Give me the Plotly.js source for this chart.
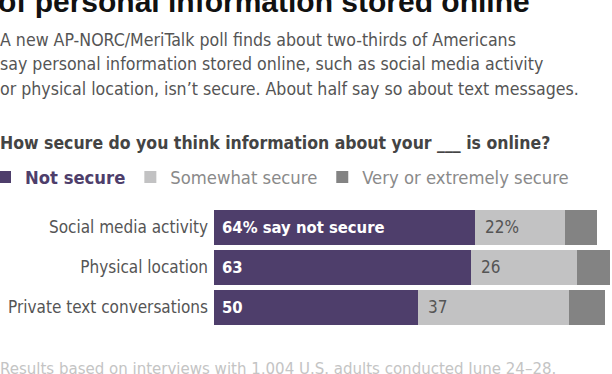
<!DOCTYPE html>
<html>
<head>
<meta charset="utf-8">
<script src="https://cdn.plot.ly/plotly-3.0.1.min.js"></script>
<style>html,body{margin:0;padding:0;background:#fff;}#chart{width:612px;height:374px;}</style>
</head>
<body>
<div id="chart"></div>
<script>
const categories = ['Social media activity', 'Physical location', 'Private text conversations'];
const notSecure = [64, 63, 50];
const somewhatSecure = [22, 26, 37];
const verySecure = [8, 8, 9];
const notSecureLabels = ['64% say not secure', '63', '50'];
const somewhatLabels = ['22%', '26', '37'];
const seriesNames = ['Not secure', 'Somewhat secure', 'Very or extremely secure'];

const titleText = 'of personal information stored online';
const subtitleLines = [
  'A new AP-NORC/MeriTalk poll finds about two-thirds of Americans',
  'say personal information stored online, such as social media activity',
  'or physical location, isn\u2019t secure. About half say so about text messages.'
];
const questionText = 'How secure do you think information about your ___ is online?';
const footerText = 'Results based on interviews with 1,004 U.S. adults conducted June 24\u201328.';

const NARROW = '"Liberation Sans Narrow", "Arial Narrow", "DejaVu Sans Condensed", sans-serif';
const BOLDF = '"Liberation Sans", Arial, sans-serif';
const PURPLE = '#4e3e6b';
const LIGHT = '#c2c2c3';
const DARK = '#838383';

const W = 612, H = 374;
const M = {l: 214, r: 0, t: 207, b: 47, autoexpand: false};
const PW = W - M.l - M.r, PH = H - M.t - M.b;
const px = x => (x - M.l) / PW;
const py = y => (H - M.b - y) / PH;

const traces = [
  {type: 'bar', orientation: 'h', y: categories, x: notSecure, marker: {color: PURPLE},
   name: '<span style="color:' + PURPLE + '"><b>' + seriesNames[0] + '</b></span>', hoverinfo: 'x+y'},
  {type: 'bar', orientation: 'h', y: categories, x: somewhatSecure, marker: {color: LIGHT},
   name: seriesNames[1], hoverinfo: 'x+y'},
  {type: 'bar', orientation: 'h', y: categories, x: verySecure, marker: {color: DARK},
   name: seriesNames[2], hoverinfo: 'x+y'}
];

const annotations = [];
function txt(text, x, y, opts) {
  annotations.push(Object.assign({text: text, x: px(x), y: py(y), xref: 'paper', yref: 'paper',
    showarrow: false, xanchor: 'left', yanchor: 'middle', borderpad: 0}, opts));
}
txt('<b>' + titleText + '</b>', -3, 1, {font: {family: BOLDF, size: 30, color: '#111'}});
const subY = [40, 64, 89];
subtitleLines.forEach((l, i) => txt(l, -1, subY[i], {font: {family: NARROW, size: 17.6, color: '#555'}}));
txt('<b>' + questionText + '</b>', -1, 143, {font: {family: NARROW, size: 17.5, color: '#444'}});
txt(footerText, -1, 368, {font: {family: NARROW, size: 16.7, color: '#c4c4c4'}});

categories.forEach((c, i) => {
  annotations.push({text: '<b>' + notSecureLabels[i] + '</b>', x: 0, y: c, xref: 'x', yref: 'y',
    xanchor: 'left', yanchor: 'middle', xshift: 6, showarrow: false,
    font: {family: NARROW, size: 16.5, color: '#fff'}});
  annotations.push({text: somewhatLabels[i], x: notSecure[i], y: c, xref: 'x', yref: 'y',
    xanchor: 'left', yanchor: 'middle', xshift: 8, showarrow: false,
    font: {family: NARROW, size: 17, color: '#555'}});
});

const layout = {
  width: W, height: H,
  margin: M,
  paper_bgcolor: '#fff', plot_bgcolor: '#fff',
  barmode: 'stack', bargap: 0.125,
  showlegend: true,
  legend: {orientation: 'h', x: px(-15), y: py(177), xanchor: 'left', yanchor: 'middle',
    font: {family: NARROW, size: 18.3, color: '#8a8a8a'}, traceorder: 'normal', itemclick: false},
  xaxis: {range: [0, 97.6], showgrid: false, zeroline: false, showticklabels: false, ticks: '', fixedrange: true},
  yaxis: {type: 'category', range: [2.5, -0.5], showgrid: false, zeroline: false, ticks: '',
    ticklabelstandoff: 5, tickfont: {family: NARROW, size: 17, color: '#555'}, fixedrange: true},
  annotations: annotations
};

Plotly.newPlot('chart', traces, layout, {displayModeBar: false, staticPlot: true});
</script>
</body>
</html>
